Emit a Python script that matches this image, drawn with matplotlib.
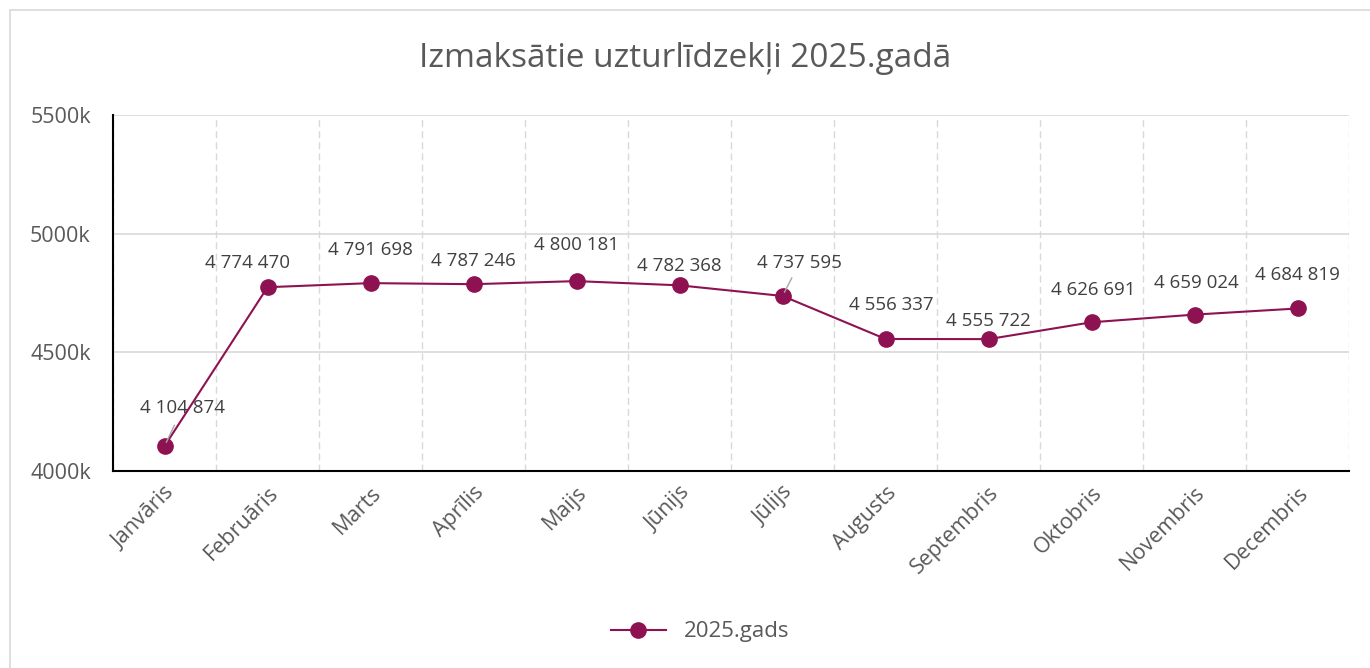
import numpy as np
import matplotlib.pyplot as plt
from matplotlib.patches import Rectangle

months = ['Janvāris', 'Februāris', 'Marts', 'Aprīlis', 'Maijs', 'Jūnijs',
          'Jūlijs', 'Augusts', 'Septembris', 'Oktobris', 'Novembris', 'Decembris']
values = [4104874, 4774470, 4791698, 4787246, 4800181, 4782368,
          4737595, 4556337, 4555722, 4626691, 4659024, 4684819]
series_name = '2025.gads'
title = 'Izmaksātie uzturlīdzekļi 2025.gadā'

# label offsets in pixels (dx, dy) from the point, Excel-ish placement
offsets = [(18, 38), (-20, 24), (0, 33), (0, 23), (0, 36), (0, 19),
           (17, 33), (6, 34), (0, 18), (2, 32), (2, 32), (0, 33)]
leader = [True, False, False, False, False, False, True, False, False, False, False, False]

plt.rcParams['font.family'] = ['Open Sans', 'DejaVu Sans']
txt = '#595959'
col = '#8E1252'

fig = plt.figure(figsize=(13.7, 6.68), dpi=100)
fig.patches.append(Rectangle((0.007, -0.01), 1.0, 0.995, transform=fig.transFigure,
                             fill=False, edgecolor='#d9d9d9', linewidth=1.2))
ax = fig.add_axes([0.0825, 0.2949, 0.9022, 0.5329])

x = np.arange(len(months))
ax.plot(x, values, color=col, linewidth=1.5, marker='o', markersize=11,
        label=series_name, zorder=3)

for i, v in enumerate(values):
    dx, dy = offsets[i]
    s = f'{v:,}'.replace(',', ' ')
    if leader[i]:
        # short grey leader line from the point towards its label
        ax.annotate('', xy=(i, v), xycoords='data', xytext=(dx * 0.55, dy * 0.55),
                    textcoords='offset pixels',
                    arrowprops=dict(arrowstyle='-', color='#a6a6a6', lw=1,
                                    shrinkA=0, shrinkB=3))
    ax.annotate(s, xy=(i, v), xytext=(dx, dy), textcoords='offset pixels',
                ha='center', va='center', fontsize=13.5, color='#404040', zorder=4)

ax.set_xlim(-0.5, 11.5)
ax.set_ylim(4000000, 5500000)
ax.set_yticks([4000000, 4500000, 5000000, 5500000])
ax.set_yticklabels(['4000k', '4500k', '5000k', '5500k'])
ax.set_xticks(x)
ax.set_xticklabels(months, rotation=45, ha='right', rotation_mode='anchor')
ax.set_xticks(np.arange(-0.5, 12, 1), minor=True)

ax.tick_params(axis='both', which='both', length=0, labelsize=15.5, colors=txt)
ax.tick_params(axis='y', pad=16)
ax.tick_params(axis='x', pad=8)

ax.grid(axis='y', which='major', color='#d9d9d9', linewidth=1.2)
ax.grid(axis='x', which='minor', color='#d9d9d9', linewidth=1, linestyle=(0, (5, 3)))
ax.set_axisbelow(True)

for s in ['top', 'right']:
    ax.spines[s].set_visible(False)
for s in ['left', 'bottom']:
    ax.spines[s].set_color('black')
    ax.spines[s].set_linewidth(1.5)

fig.text(0.5, 0.912, title, ha='center', va='center', fontsize=24, color=txt)

fig.legend(loc='center', bbox_to_anchor=(0.511, 0.054), frameon=False,
           fontsize=16, labelcolor=txt, handlelength=2.5)

fig.savefig('out.png', dpi=100)
